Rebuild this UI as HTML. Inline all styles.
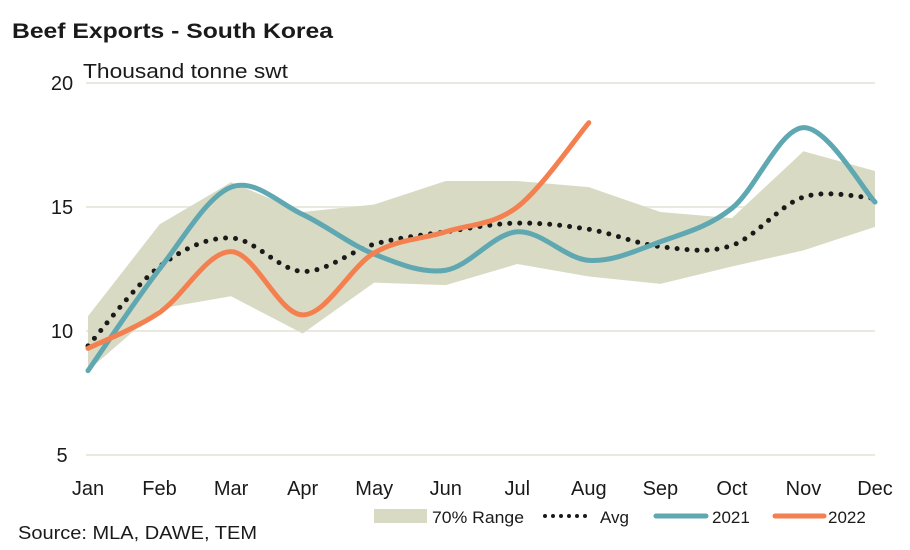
<!DOCTYPE html>
<html><head><meta charset="utf-8"><style>
html,body{margin:0;padding:0;background:#fff;}
svg{display:block;font-family:"Liberation Sans",sans-serif;}
</style></head><body>
<svg id="chart" width="910" height="550" viewBox="0 0 910 550" xmlns="http://www.w3.org/2000/svg">
<text x="12" y="38" font-size="21" font-weight="bold" fill="#1a1a1a" textLength="321" lengthAdjust="spacingAndGlyphs">Beef Exports - South Korea</text>
<text x="83" y="78" font-size="20" fill="#1a1a1a" textLength="205" lengthAdjust="spacingAndGlyphs">Thousand tonne swt</text>
<g id="grid"></g>
<g id="marks"></g>
<g id="axes"></g>
<g>
<rect x="374" y="509" width="53" height="14" fill="#d9dac4"/>
<text x="432" y="523" font-size="17" fill="#1a1a1a" textLength="92" lengthAdjust="spacingAndGlyphs">70% Range</text>
<line x1="545" y1="516" x2="592" y2="516" stroke="#1a1a1a" stroke-width="4" stroke-dasharray="0 8" stroke-linecap="round"/>
<text x="600" y="523" font-size="17" fill="#1a1a1a">Avg</text>
<line x1="656" y1="516" x2="706" y2="516" stroke="#5fa8b2" stroke-width="5" stroke-linecap="round"/>
<text x="712" y="523" font-size="17" fill="#1a1a1a">2021</text>
<line x1="775" y1="516" x2="824" y2="516" stroke="#f5804f" stroke-width="5" stroke-linecap="round"/>
<text x="828" y="523" font-size="17" fill="#1a1a1a">2022</text>
</g>
<text x="18" y="539" font-size="18" fill="#1a1a1a" textLength="239" lengthAdjust="spacingAndGlyphs">Source: MLA, DAWE, TEM</text>
</svg>
<script>
const months=["Jan","Feb","Mar","Apr","May","Jun","Jul","Aug","Sep","Oct","Nov","Dec"];
const yTicks=[5,10,15,20];
const rangeUpper=[10.6,14.3,16.0,14.8,15.1,16.05,16.05,15.8,14.8,14.55,17.25,16.45];
const rangeLower=[8.4,10.9,11.4,9.9,11.95,11.85,12.7,12.2,11.9,12.6,13.25,14.2];
const avg=[9.4,12.6,13.75,12.4,13.5,14.0,14.35,14.1,13.4,13.45,15.4,15.35];
const s2021=[8.4,12.5,15.8,14.7,13.1,12.45,14.0,12.85,13.6,14.95,18.2,15.2];
const s2022=[9.3,10.75,13.2,10.65,13.15,14.0,15.0,18.4];
const NS="http://www.w3.org/2000/svg";
const x=i=>88+i*(875-88)/11;
const y=v=>455-(v-5)*24.8;
function mk(tag,attrs,parent){const e=document.createElementNS(NS,tag);for(const k in attrs)e.setAttribute(k,attrs[k]);parent.appendChild(e);return e;}
const grid=document.getElementById('grid'),marks=document.getElementById('marks'),axes=document.getElementById('axes');
yTicks.forEach(t=>{
  const l=mk('line',{x1:86,x2:875,y1:y(t),y2:y(t),stroke:'#e9e9df','stroke-width':2},grid);
  
  
  const tx=mk('text',{x:62,y:y(t)+7,'font-size':20,fill:'#1a1a1a','text-anchor':'middle'},axes);
  tx.textContent=t;
  
  
});
months.forEach((m,i)=>{
  const tx=mk('text',{x:x(i),y:495,'font-size':20,fill:'#1a1a1a','text-anchor':'middle'},axes);
  tx.textContent=m;
  
  
});
let pts=rangeUpper.map((v,i)=>x(i)+','+y(v)).concat(rangeLower.map((v,i)=>x(i)+','+y(v)).reverse());
const poly=mk('polygon',{points:pts.join(' '),fill:'#d9dac4'},marks);


function smooth(vals){
  const p=vals.map((v,i)=>[x(i),y(v)]);
  let d='M'+p[0][0]+','+p[0][1];
  const t=0.5/3*2;
  for(let i=0;i<p.length-1;i++){
    const p0=p[i-1]||p[i],p1=p[i],p2=p[i+1],p3=p[i+2]||p[i+1];
    const c1=[p1[0]+(p2[0]-p0[0])*t/2,p1[1]+(p2[1]-p0[1])*t/2];
    const c2=[p2[0]-(p3[0]-p1[0])*t/2,p2[1]-(p3[1]-p1[1])*t/2];
    d+=' C'+c1+' '+c2+' '+p2;
  }
  return d;
}
const a=mk('path',{d:smooth(avg),fill:'none',stroke:'#1a1a1a','stroke-width':5,'stroke-dasharray':'0 10','stroke-linecap':'round'},marks);


const l1=mk('path',{d:smooth(s2021),fill:'none',stroke:'#5fa8b2','stroke-width':5,'stroke-linecap':'round'},marks);


const l2=mk('path',{d:smooth(s2022),fill:'none',stroke:'#f5804f','stroke-width':5,'stroke-linecap':'round'},marks);


</script>
</body></html>
